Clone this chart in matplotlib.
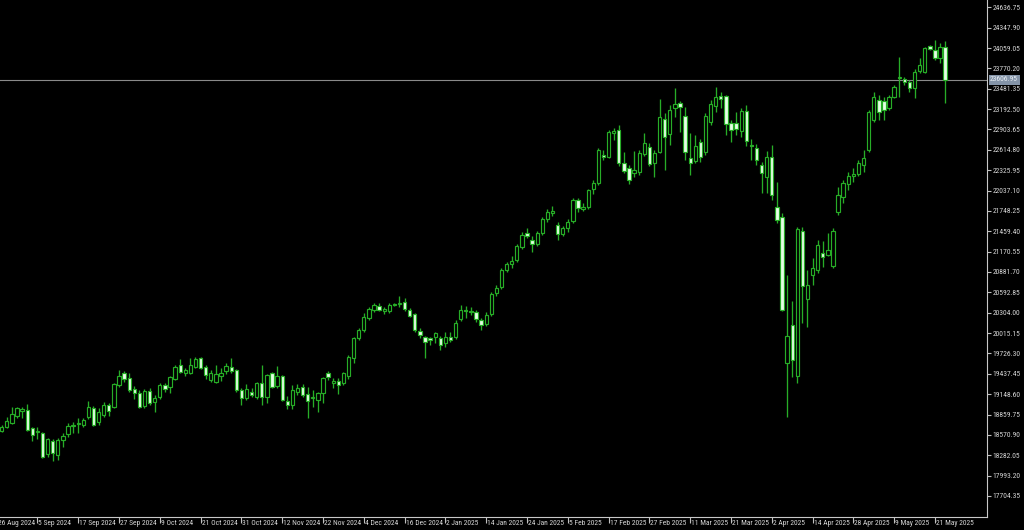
import matplotlib
matplotlib.use("Agg")
import matplotlib.pyplot as plt
from matplotlib.patches import Rectangle
from matplotlib import font_manager as fm
import matplotlib.transforms as mtransforms

# ---------------- data (daily candles, 27 Aug 2024 .. 23 May 2025) ----------------
opens = [18626, 18683, 18739, 18839, 18909, 18924, 18668, 18612, 18597, 18300,
         18484, 18285, 18498, 18583, 18697, 18725, 18711, 18824, 18952, 18753,
         18853, 18995, 18966, 19278, 19449, 19378, 19222, 19165, 18980, 19193,
         19037, 19108, 19278, 19250, 19363, 19562, 19449, 19449, 19534, 19661,
         19534, 19349, 19321, 19406, 19477, 19534, 19491, 19207, 19094, 19179,
         19108, 19307, 19108, 19449, 19264, 19406, 19051, 18995, 19179, 19250,
         19151, 19094, 19066, 19165, 19449, 19307, 19335, 19307, 19406, 19661,
         19945, 20059, 20229, 20342, 20399, 20328, 20328, 20413, 20427, 20456,
         20342, 20286, 20044, 19959, 19945, 19959, 19945, 19874, 19959, 19959,
         20215, 20342, 20328, 20314, 20200, 20144, 20286, 20584, 20669, 20910,
         20995, 21052, 21236, 21435, 21335, 21279, 21435, 21633, 21718, 21548,
         21421, 21506, 21605, 21903, 21775, 21804, 22059, 22144, 22541, 22513,
         22853, 22896, 22428, 22357, 22286, 22300, 22555, 22655, 22428, 22584,
         23052, 22839, 23208, 23279, 23095, 22499, 22456, 22726, 22584, 23010,
         23237, 23378, 23378, 22995, 22995, 22882, 23166, 22683, 22641, 22399,
         22229, 22513, 21804, 21662, 19590, 20130, 19406, 21463, 20498, 20839,
         20910, 21151, 21123, 20967, 21733, 21946, 22130, 22243, 22272, 22399,
         22612, 23038, 23322, 23307, 23208, 23364, 23634, 23620, 23577, 23492,
         23733, 23719, 24088, 24031, 23918, 24074]

highs = [18711, 18824, 18966, 18966, 18966, 19009, 18683, 18683, 18612, 18526,
         18512, 18526, 18597, 18739, 18753, 18810, 18810, 19051, 18980, 18952,
         19037, 19023, 19307, 19491, 19477, 19449, 19264, 19207, 19222, 19236,
         19137, 19307, 19307, 19406, 19562, 19647, 19520, 19661, 19676, 19676,
         19562, 19491, 19562, 19520, 19590, 19661, 19505, 19236, 19293, 19236,
         19321, 19562, 19434, 19463, 19548, 19420, 19122, 19278, 19293, 19293,
         19250, 19207, 19179, 19392, 19477, 19378, 19378, 19463, 19704, 19959,
         20087, 20300, 20385, 20442, 20442, 20385, 20442, 20442, 20541, 20513,
         20371, 20300, 20087, 19973, 19959, 20030, 19973, 20030, 20030, 20200,
         20413, 20399, 20385, 20342, 20229, 20314, 20598, 20697, 20938, 21023,
         21108, 21279, 21449, 21506, 21392, 21463, 21662, 21775, 21818, 21591,
         21534, 21633, 21931, 21931, 21860, 22059, 22187, 22641, 22612, 22896,
         22924, 22967, 22584, 22399, 22598, 22612, 22853, 22712, 22612, 23336,
         23137, 23251, 23492, 23307, 23222, 22853, 22825, 22768, 23137, 23322,
         23506, 23435, 23393, 23038, 23151, 23208, 23251, 22768, 22697, 22442,
         22598, 22683, 22158, 21718, 20839, 20470, 21520, 21520, 20910, 21080,
         21335, 21321, 21435, 21506, 22087, 22187, 22300, 22357, 22470, 22612,
         23180, 23435, 23393, 23364, 23393, 23534, 23932, 23648, 23605, 23761,
         23918, 24074, 24102, 24173, 24130, 24159]

lows = [18612, 18668, 18725, 18810, 18810, 18626, 18484, 18512, 18243, 18257,
        18200, 18214, 18399, 18541, 18597, 18597, 18683, 18796, 18697, 18711,
        18824, 18839, 18952, 19250, 19321, 19179, 19080, 18952, 18952, 18995,
        18895, 19080, 19179, 19165, 19349, 19449, 19406, 19434, 19520, 19505,
        19363, 19321, 19307, 19335, 19434, 19449, 19179, 18995, 19066, 19108,
        19080, 18995, 19023, 19236, 19236, 19051, 18938, 18938, 19137, 19108,
        18810, 18966, 18895, 19023, 19349, 19236, 19151, 19278, 19363, 19590,
        19917, 20030, 20200, 20314, 20328, 20286, 20300, 20399, 20385, 20328,
        20243, 20030, 19945, 19661, 19846, 19874, 19775, 19817, 19888, 19931,
        20186, 20229, 20271, 20172, 20059, 20115, 20257, 20541, 20640, 20881,
        20938, 21023, 21208, 21364, 21165, 21250, 21406, 21591, 21676, 21335,
        21392, 21449, 21577, 21733, 21747, 21775, 21988, 22116, 22470, 22499,
        22754, 22385, 22286, 22130, 22229, 22258, 22527, 22385, 22229, 22570,
        22328, 22683, 23080, 22868, 22470, 22258, 22428, 22442, 22541, 22967,
        23151, 23208, 22825, 22726, 22825, 22797, 22669, 22470, 22399, 22002,
        22002, 21903, 21577, 20328, 18824, 19392, 19307, 20158, 20101, 20697,
        20867, 20952, 21108, 20938, 21690, 21860, 22045, 22158, 22243, 22300,
        22584, 23010, 23038, 23038, 23180, 23350, 23364, 23534, 23435, 23350,
        23705, 23705, 24031, 23889, 23847, 23279]

closes = [18683, 18768, 18867, 18952, 18938, 18640, 18569, 18626, 18257, 18512,
          18314, 18498, 18555, 18697, 18711, 18739, 18782, 18966, 18711, 18895,
          18995, 18909, 19293, 19406, 19363, 19207, 19165, 18966, 19193, 19023,
          19094, 19278, 19222, 19392, 19534, 19463, 19491, 19562, 19647, 19520,
          19420, 19449, 19434, 19449, 19548, 19477, 19207, 19094, 19222, 19137,
          19307, 19108, 19420, 19250, 19406, 19066, 18995, 19207, 19236, 19137,
          19051, 19108, 19165, 19378, 19392, 19335, 19278, 19449, 19676, 19945,
          20059, 20243, 20357, 20413, 20342, 20357, 20413, 20427, 20442, 20357,
          20257, 20059, 19988, 19888, 19917, 20016, 19846, 19959, 19917, 20158,
          20342, 20328, 20314, 20215, 20130, 20271, 20569, 20654, 20910, 20995,
          21037, 21250, 21406, 21392, 21279, 21435, 21633, 21733, 21747, 21421,
          21506, 21591, 21903, 21789, 21804, 22045, 22144, 22612, 22513, 22868,
          22882, 22428, 22314, 22187, 22328, 22570, 22712, 22414, 22570, 23080,
          22797, 23180, 23265, 23222, 22584, 22428, 22669, 22513, 23095, 23265,
          23364, 23336, 22981, 22896, 22910, 23166, 22740, 22669, 22470, 22286,
          22513, 21974, 21619, 20342, 19973, 19633, 21491, 20683, 20697, 20938,
          21264, 21094, 21194, 21463, 21974, 22144, 22243, 22272, 22428, 22499,
          23151, 23364, 23151, 23180, 23364, 23506, 23648, 23577, 23492, 23719,
          23818, 24059, 24045, 23918, 24074, 23606.95]

date_labels = ["26 Aug 2024", "5 Sep 2024", "17 Sep 2024", "27 Sep 2024", "9 Oct 2024",
               "21 Oct 2024", "31 Oct 2024", "12 Nov 2024", "22 Nov 2024", "4 Dec 2024",
               "16 Dec 2024", "2 Jan 2025", "14 Jan 2025", "24 Jan 2025", "5 Feb 2025",
               "17 Feb 2025", "27 Feb 2025", "11 Mar 2025", "21 Mar 2025", "2 Apr 2025",
               "14 Apr 2025", "28 Apr 2025", "9 May 2025", "21 May 2025"]
date_label_bars = [-1, 7, 15, 23, 31, 39, 47, 55, 63, 71, 79, 87, 95, 103, 111,
                   119, 127, 135, 143, 151, 159, 167, 175, 183]

price_ticks = [17704.35, 17993.20, 18282.05, 18570.90, 18859.75, 19148.60, 19437.45,
               19726.30, 20015.15, 20304.00, 20592.85, 20881.70, 21170.55, 21459.40,
               21748.25, 22037.10, 22325.95, 22614.80, 22903.65, 23192.50, 23481.35,
               23770.20, 24059.05, 24347.90, 24636.75]
last_price = 23606.95

# ---------------- font: prefer a narrow face (terminal-like axis text) ----------------
entries = fm.fontManager.ttflist
names = {f.name for f in entries}
fp = fm.FontProperties(family="DejaVu Sans")
FS_Y, FS_X = 4.6, 3.8
chosen = None
for cand in ("Liberation Sans Narrow", "Roboto Condensed", "Open Sans Condensed",
             "DejaVu Sans Condensed", "Arial Narrow"):
    if cand in names:
        chosen = fm.FontProperties(family=cand)
        break
if chosen is None:
    for f in entries:
        st = str(getattr(f, "stretch", "normal"))
        if f.name in ("Noto Sans", "Open Sans", "Roboto", "DejaVu Sans", "Inter") and \
                st in ("condensed", "semi-condensed", "extra-condensed") and \
                str(getattr(f, "style", "normal")) == "normal" and \
                str(getattr(f, "weight", "normal")) in ("normal", "400", "regular"):
            chosen = fm.FontProperties(fname=f.fname)
            break
if chosen is not None:
    fp = chosen
    FS_Y, FS_X = 5.4, 5.4

W, H = 1024, 530
fig = plt.figure(figsize=(W / 100, H / 100), dpi=100, facecolor="black")
ax = fig.add_axes([0, 13 / H, 987 / W, 517 / H])
ax.set_facecolor("black")

wick_c = "#27ad27"
edge_c = "#27ad27"
bear_fill = "#e6ffe6"
bw = 0.66

xs = list(range(len(closes)))
ax.vlines(xs, lows, highs, colors=wick_c, linewidth=0.95, zorder=2)
for x, o, c in zip(xs, opens, closes):
    bottom = min(o, c)
    h = abs(c - o)
    fc = "black" if c >= o else bear_fill
    ax.add_patch(Rectangle((x - bw / 2, bottom), bw, h, facecolor=fc,
                           edgecolor=edge_c, linewidth=0.85, zorder=3))

ax.axhline(last_price, color="#8a8a8a", linewidth=0.8, zorder=1)

ax.set_xlim(-0.333, 193.2)
ax.set_ylim(17405.6, 24740.3)

# right price axis
ax.yaxis.tick_right()
ax.set_yticks(price_ticks)
ax.set_yticklabels([f"{v:.2f}" for v in price_ticks])
for t in ax.get_yticklabels():
    t.set_fontproperties(fp)
    t.set_fontsize(FS_Y)
ax.tick_params(axis="y", direction="out", length=3, width=0.8, colors="#c0c0c0",
               labelcolor="#d4d4d4", pad=1)

# bottom date axis
ax.set_xticks(date_label_bars[1:])
ax.set_xticklabels([])
ax.tick_params(axis="x", direction="out", length=4, width=0.8, colors="#c0c0c0")
off = mtransforms.ScaledTranslation(1.0 / 100, -3.0 / 100, fig.dpi_scale_trans)
for pos, lab in zip(date_label_bars, date_labels):
    ax.text(pos, 0, lab, transform=ax.get_xaxis_transform() + off, ha="left", va="top",
            fontproperties=fp, fontsize=FS_X, color="#d4d4d4", clip_on=False)

# current price label
off2 = mtransforms.ScaledTranslation(3 / 100, 0, fig.dpi_scale_trans)
ax.text(1.0, last_price, f"{last_price:.2f}", transform=ax.get_yaxis_transform() + off2,
        ha="left", va="center", fontproperties=fp, fontsize=FS_Y, color="#e8eef4",
        bbox=dict(boxstyle="square,pad=0.2", fc="#8494a8", ec="none"), zorder=6, clip_on=False)

for s in ("top", "left"):
    ax.spines[s].set_visible(False)
for s in ("right", "bottom"):
    ax.spines[s].set_color("#c8c8c8")
    ax.spines[s].set_linewidth(0.8)

fig.savefig("out.png", dpi=100, facecolor="black")
